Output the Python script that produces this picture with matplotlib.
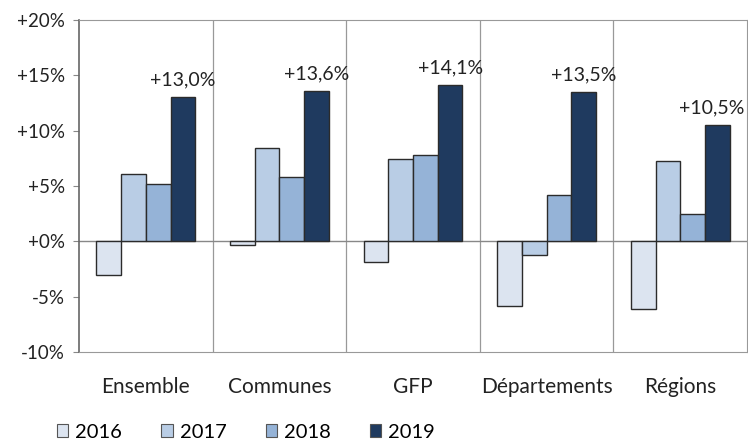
import numpy as np
import matplotlib
matplotlib.use("Agg")
from matplotlib import pyplot as plt
from matplotlib.patches import Patch

plt.rcParams['font.family'] = ['Lato', 'DejaVu Sans']

categories = ['Ensemble', 'Communes', 'GFP', 'Départements', 'Régions']
years = ['2016', '2017', '2018', '2019']
v2016 = [-3.0, -0.3, -1.9, -5.8, -6.1]
v2017 = [6.1, 8.4, 7.4, -1.2, 7.3]
v2018 = [5.2, 5.8, 7.8, 4.2, 2.5]
v2019 = [13.0, 13.6, 14.1, 13.5, 10.5]
labels2019 = ['+13,0%', '+13,6%', '+14,1%', '+13,5%', '+10,5%']
colors = ['#dce4f0', '#b9cde5', '#95b3d7', '#1f3a5f']

series = [v2016, v2017, v2018, v2019]

fig = plt.figure(figsize=(7.48, 4.41), dpi=100)
ax = fig.add_axes([0.1056, 0.2018, 0.8931, 0.7528])

x = np.arange(len(categories))
w = 0.185
for i, vals in enumerate(series):
    bars = ax.bar(x + (i - 1.5) * w, vals, w, color=colors[i],
                  edgecolor='#2b2b2b', linewidth=1.0, label=years[i], zorder=3)
    if i == 3:
        for k, (b, lab) in enumerate(zip(bars, labels2019)):
            # last label sits against the right edge, nudge it in a bit
            dx = -4 if k == len(labels2019) - 1 else 0
            ax.annotate(lab, (b.get_x() + b.get_width() / 2, b.get_height()),
                        xytext=(dx, 12.5), textcoords='offset points',
                        ha='center', va='center', fontsize=14, color='#222222')

ax.set_xlim(-0.5, len(categories) - 0.5)
ax.set_ylim(-10, 20)
ax.set_yticks(range(-10, 21, 5))
ax.set_yticklabels(['-10%', '-5%', '+0%', '+5%', '+10%', '+15%', '+20%'],
                   fontsize=13.5, color='#222222')
ax.set_xticks(x)
ax.set_xticklabels(categories, fontsize=15, color='#222222')
ax.tick_params(axis='x', length=0, pad=18)
ax.tick_params(axis='y', length=4, color='#888888', pad=6)

for xv in np.arange(0.5, len(categories) - 0.5, 1):
    ax.axvline(xv, color='#999999', linewidth=0.9, zorder=1)
ax.axhline(0, color='#888888', linewidth=1.0, zorder=2)

for s in ['top', 'right', 'bottom']:
    ax.spines[s].set_color('#999999')
ax.spines['left'].set_color('#666666')
ax.spines['left'].set_linewidth(1.2)

handles = [Patch(facecolor=colors[i], edgecolor='#555555', linewidth=0.8, label=years[i])
           for i in range(4)]
fig.legend(handles=handles, loc='center left', bbox_to_anchor=(0.0765, 0.02),
           ncol=4, frameon=False, fontsize=14.5, handlelength=0.55, handleheight=0.55,
           handletextpad=0.35, columnspacing=1.95, borderpad=0, borderaxespad=0)

fig.savefig('out.png', dpi=100)
